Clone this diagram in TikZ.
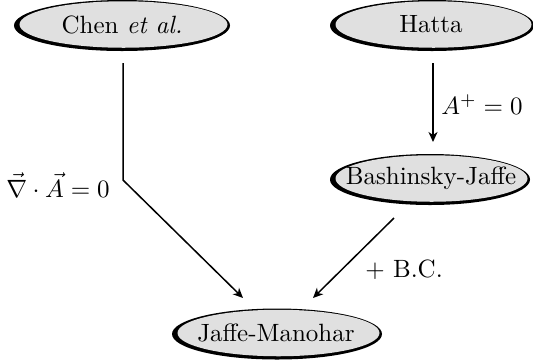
\documentclass[tikz,border=0pt]{standalone}
\usetikzlibrary{shapes.geometric,arrows.meta}
\tikzset{
  shadowell/.style={ellipse, fill=black, inner sep=0pt, minimum height=20.4pt},
  grayell/.style={ellipse, fill=black!12, inner sep=0pt, minimum height=18.6pt},
  etext/.style={inner sep=0pt, font=\fontsize{10}{12}\selectfont},
  arr/.style={line width=0.6pt, -{Stealth[length=4pt,width=3.6pt,inset=1.2pt]}},
  lbl/.style={inner sep=0pt}
}
\begin{document}
\begin{tikzpicture}[x=0.4pt,y=-0.4pt]
\useasboundingbox (0,0) rectangle (533,362);
% ellipses: black backing + gray face + text
\node[shadowell, minimum width=86.4pt] (chen-bg) at (122,25.5) {};
\node[grayell, minimum width=83.2pt] (chen) at (123.5,24.5) {};
\node[etext] (chen-t) at (122,24.5) {Chen \textit{et al.}};
\node[shadowell, minimum width=81.6pt] (hatta-bg) at (432,25.5) {};
\node[grayell, minimum width=78.4pt] (hatta) at (433.5,24.5) {};
\node[etext] (hatta-t) at (431,24.5) {Hatta};
\node[shadowell, minimum width=80pt] (bj-bg) at (430,179.5) {};
\node[grayell, minimum width=76.8pt] (bj) at (431.5,178.5) {};
\node[etext] (bj-t) at (431,178.5) {Bashinsky-Jaffe};
\node[shadowell, minimum width=84pt] (jm-bg) at (277,334) {};
\node[grayell, minimum width=80.8pt] (jm) at (278.5,333) {};
\node[etext] (jm-t) at (276,333) {Jaffe-Manohar};
% connector points
\coordinate (c1) at (123,63);
\coordinate (bend) at (123,180);
\coordinate (c2) at (243,298);
\coordinate (h1) at (433,63);
\coordinate (h2) at (433,142);
\coordinate (b1) at (394,218);
\coordinate (b2) at (313,298);
\draw[arr] (c1) -- (bend) -- (c2);
\draw[arr] (h1) -- (h2);
\draw[arr] (b1) -- (b2);
% labels
\node[lbl] (lab1) at (58,185) {$\vec{\nabla}\cdot\vec{A}=0$};
\node[lbl] (lab2) at (482,105) {$A^{+}=0$};
\node[lbl] (lab3) at (404,270) {$+$ B.C.};
\end{tikzpicture}
\end{document}
